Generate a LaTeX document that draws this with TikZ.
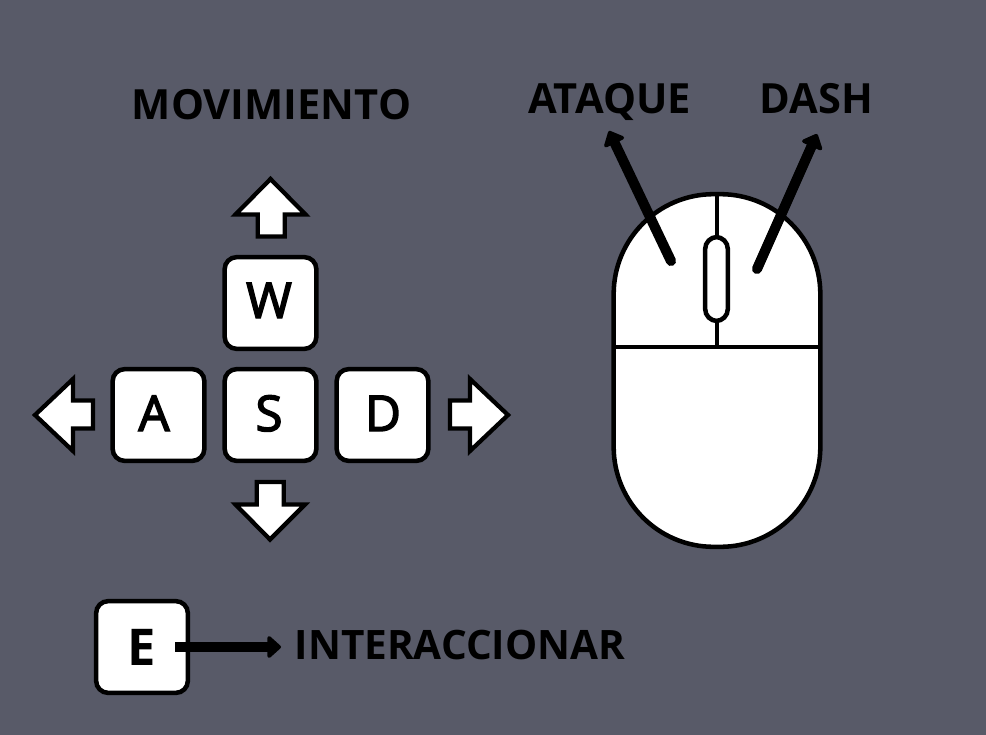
\documentclass[tikz,border=0pt]{standalone}
\usepackage{fontspec}
\setmainfont{Open Sans}
\newfontfamily\keyfont[FakeBold=3]{Open Sans}
\usetikzlibrary{arrows.meta}
\definecolor{bgc}{HTML}{585A68}
\tikzset{
  x=0.75pt,y=-0.75pt,
  keybox/.style={draw=black,fill=white,line width=3.4pt,rounded corners=9pt,minimum width=68.8pt,minimum height=68.8pt,inner sep=0pt},
  keyglyph/.style={anchor=base,inner sep=0pt,font=\fontsize{37}{38}\keyfont},
  dirarrow/.style={draw=black,fill=white,line width=3.2pt,miter limit=10},
  bigtext/.style={anchor=base,inner sep=0pt,font=\fontsize{31.2}{31}\bfseries,text=black},
  pointer/.style={draw=black,line width=7.6pt,-{Triangle[round,length=11pt,width=19pt,line width=4pt]}},
  mouseline/.style={draw=black,line width=3.4pt},
}
\begin{document}
\begin{tikzpicture}
\useasboundingbox[fill=bgc] (0,0) rectangle (986,735);
% keys
\node[keybox] (W) at (270.5,303) {};
\node[keybox] (A) at (158.5,415) {};
\node[keybox] (S) at (270.5,415) {};
\node[keybox] (D) at (382.5,415) {};
\node[keybox] (E) at (142,647) {};
\node[keyglyph] (wt) at (269,318) {W};
\node[keyglyph] (at) at (154,431) {A};
\node[keyglyph] (st) at (269,431) {S};
\node[keyglyph] (dt) at (383,431) {D};
\node[anchor=base,inner sep=0pt,font=\fontsize{38}{38}\bfseries] (et) at (142,665) {E};
% direction arrows
\draw[dirarrow] (270.5,179) -- (305.5,214.5) -- (284.7,214.5) -- (284.7,236.5) -- (257.7,236.5) -- (257.7,214.5) -- (235.5,214.5) -- cycle;
\draw[dirarrow] (270,539.5) -- (305,504.5) -- (283.7,504.5) -- (283.7,482) -- (256.7,482) -- (256.7,504.5) -- (235.5,504.5) -- cycle;
\draw[dirarrow] (35,415) -- (73,379) -- (73,400.5) -- (93,400.5) -- (93,428.5) -- (73,428.5) -- (73,451) -- cycle;
\draw[dirarrow] (508,415) -- (470,379) -- (470,400.5) -- (450,400.5) -- (450,428.5) -- (470,428.5) -- (470,451) -- cycle;
% mouse
\node[draw=black,fill=white,line width=3.4pt,rounded corners=75pt,minimum width=155pt,minimum height=264.5pt,inner sep=0pt] (mouse) at (717,370.5) {};
\coordinate (mtop) at (717,195);
\coordinate (mleft) at (614,347);
\coordinate (mright) at (820,347);
\coordinate (msplit) at (717,347);
\draw[mouseline] (mleft) -- (mright);
\draw[mouseline] (mtop) -- (msplit);
\node[draw=black,fill=white,line width=3.4pt,rounded corners=9pt,minimum width=17pt,minimum height=63pt,inner sep=0pt] (wheel) at (716.5,279) {};
% labels
\node[bigtext] (mov) at (271.5,119) {MOVIMIENTO};
\node[bigtext] (atq) at (609.5,113.5) {ATAQUE};
\node[bigtext] (dsh) at (816.5,113.5) {DASH};
\node[bigtext,font=\fontsize{30.4}{31}\bfseries] (int) at (460,659.5) {INTERACCIONAR};
% pointers
\coordinate (p1a) at (671,261);
\coordinate (p1b) at (609,131);
\coordinate (p2a) at (757,269);
\coordinate (p2b) at (817,134);
\coordinate (p3a) at (175,647);
\coordinate (p3b) at (281,647);
\draw[pointer,line cap=round] (p1a) -- (p1b);
\draw[pointer,line cap=round] (p2a) -- (p2b);
\draw[pointer] (p3a) -- (p3b);
\end{tikzpicture}
\end{document}
